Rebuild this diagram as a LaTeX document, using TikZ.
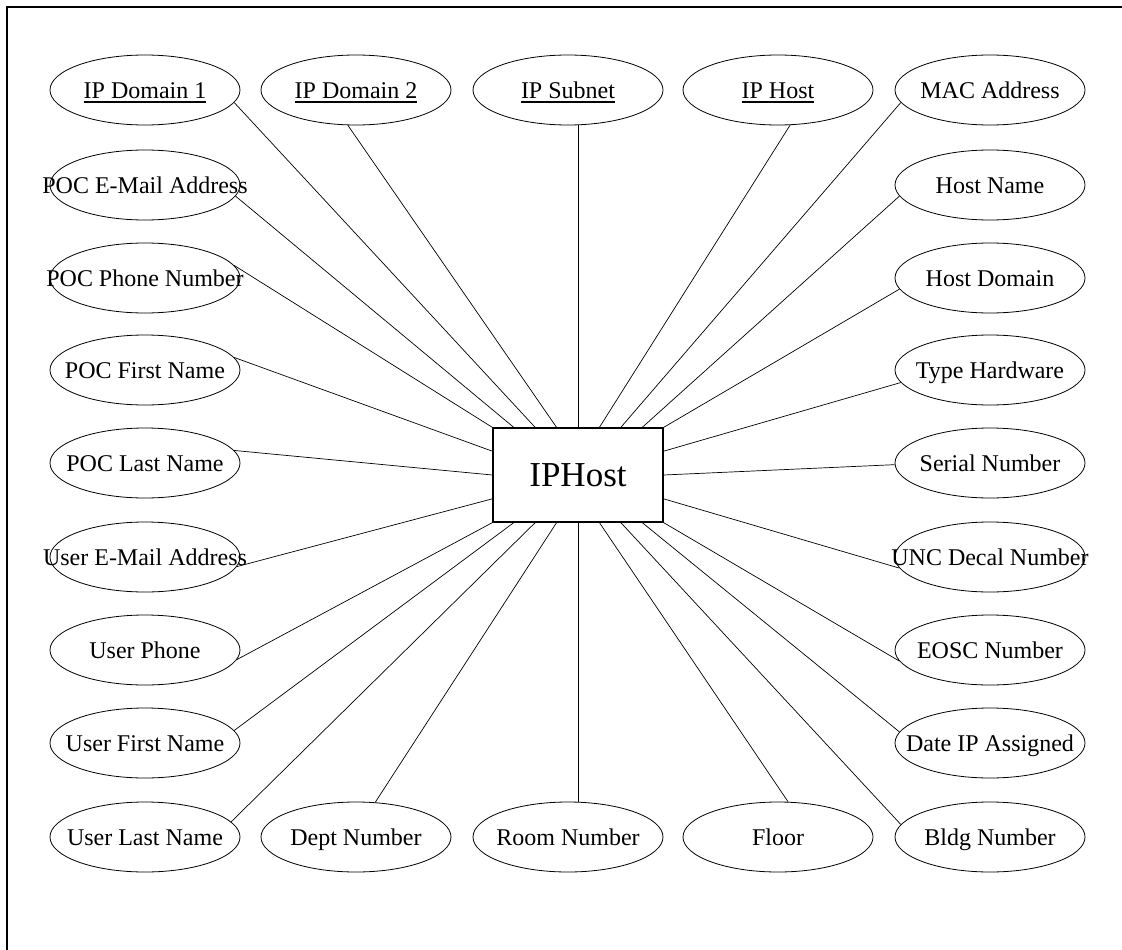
\documentclass[tikz,border=0pt]{standalone}
\usepackage{fontspec}
\setmainfont{Liberation Serif}
\usetikzlibrary{shapes.geometric,calc}
\newcommand{\ctext}[1]{\makebox[0pt]{#1}}
\newlength\ulwidth
\newcommand{\keytext}[1]{\settowidth{\ulwidth}{#1}\rlap{\rule[-4.5pt]{\ulwidth}{1.7pt}}#1}
\begin{document}
\begin{tikzpicture}[x=1pt,y=-1pt,
  attr/.style={ellipse,draw,line width=0.8pt,minimum width=190pt,minimum height=70pt,inner sep=0pt,text height=21pt,text depth=4pt,font=\fontsize{24}{27}\selectfont},
  link/.style={line width=0.7pt},
  entity/.style={draw,line width=1.2pt,minimum width=170pt,minimum height=94pt,inner sep=0pt,font=\fontsize{35}{40}\selectfont}]
\useasboundingbox (0,0) rectangle (1122,950);
\draw[line width=2.5pt] (7,950) -- (7,7) -- (1122,7);

\node[entity] (host) at (578,475) {IPHost};

\node[attr] (d1)  at (145,90)  {\ctext{\keytext{IP Domain 1}}};
\node[attr] (d2)  at (356,90)  {\ctext{\keytext{IP Domain 2}}};
\node[attr] (sub) at (568,90)  {\ctext{\keytext{IP Subnet}}};
\node[attr] (iph) at (778,90)  {\ctext{\keytext{IP Host}}};
\node[attr] (mac) at (990,90)  {\ctext{MAC Address}};
\node[attr] (pe)  at (145,185) {\ctext{POC E-Mail Address}};
\node[attr] (pp)  at (145,278) {\ctext{POC Phone Number}};
\node[attr] (pf)  at (145,370) {\ctext{POC First Name}};
\node[attr] (pl)  at (145,463) {\ctext{POC Last Name}};
\node[attr] (ue)  at (145,557) {\ctext{User E-Mail Address}};
\node[attr] (up)  at (145,650) {\ctext{User Phone}};
\node[attr] (uf)  at (145,743) {\ctext{User First Name}};
\node[attr] (ul)  at (145,837) {\ctext{User Last Name}};
\node[attr] (dn)  at (356,837) {\ctext{Dept Number}};
\node[attr] (rn)  at (568,837) {\ctext{Room Number}};
\node[attr] (fl)  at (778,837) {\ctext{Floor}};
\node[attr] (bn)  at (990,837) {\ctext{Bldg Number}};
\node[attr] (hn)  at (990,185) {\ctext{Host Name}};
\node[attr] (hd)  at (990,278) {\ctext{Host Domain}};
\node[attr] (th)  at (990,370) {\ctext{Type Hardware}};
\node[attr] (sn)  at (990,463) {\ctext{Serial Number}};
\node[attr] (unc) at (990,557) {\ctext{UNC Decal Number}};
\node[attr] (eo)  at (990,650) {\ctext{EOSC Number}};
\node[attr] (da)  at (990,743) {\ctext{Date IP Assigned}};

\foreach \k in {0,...,8} {
  \coordinate (t\k) at ($(host.north west)!\k/8!(host.north east)$);
  \coordinate (b\k) at ($(host.south west)!\k/8!(host.south east)$);
}
\foreach \k in {1,2,3} {
  \coordinate (l\k) at ($(host.north west)!\k/4!(host.south west)$);
  \coordinate (r\k) at ($(host.north east)!\k/4!(host.south east)$);
}
% top edge
\draw[link] (t0) -- (pp.8);
\draw[link] (t1) -- (pe.-7);
\draw[link] (t2) -- (d1.-8);
\draw[link] (t3) -- (d2.-103);
\draw[link] (t4) -- (t4 |- sub.south);
\draw[link] (t5) -- (iph.-71);
\draw[link] (t6) -- (mac.188);
\draw[link] (t7) -- (hn.187);
\draw[link] (t8) -- (hd.187);
% left / right edges
\draw[link] (l1) -- (pf.8);
\draw[link] (l2) -- (pl.8);
\draw[link] (l3) -- (ue.-6);
\draw[link] (r1) -- (th.188);
\draw[link] (r2) -- (sn.181);
\draw[link] (r3) -- (unc.187);
% bottom edge
\draw[link] (b0) -- (up.-6);
\draw[link] (b1) -- (uf.8);
\draw[link] (b2) -- (ul.10);
\draw[link] (b3) -- (dn.61);
\draw[link] (b4) -- (b4 |- rn.north);
\draw[link] (b5) -- (fl.74);
\draw[link] (b6) -- (bn.172);
\draw[link] (b7) -- (da.173);
\draw[link] (b8) -- (eo.187);
\end{tikzpicture}
\end{document}
